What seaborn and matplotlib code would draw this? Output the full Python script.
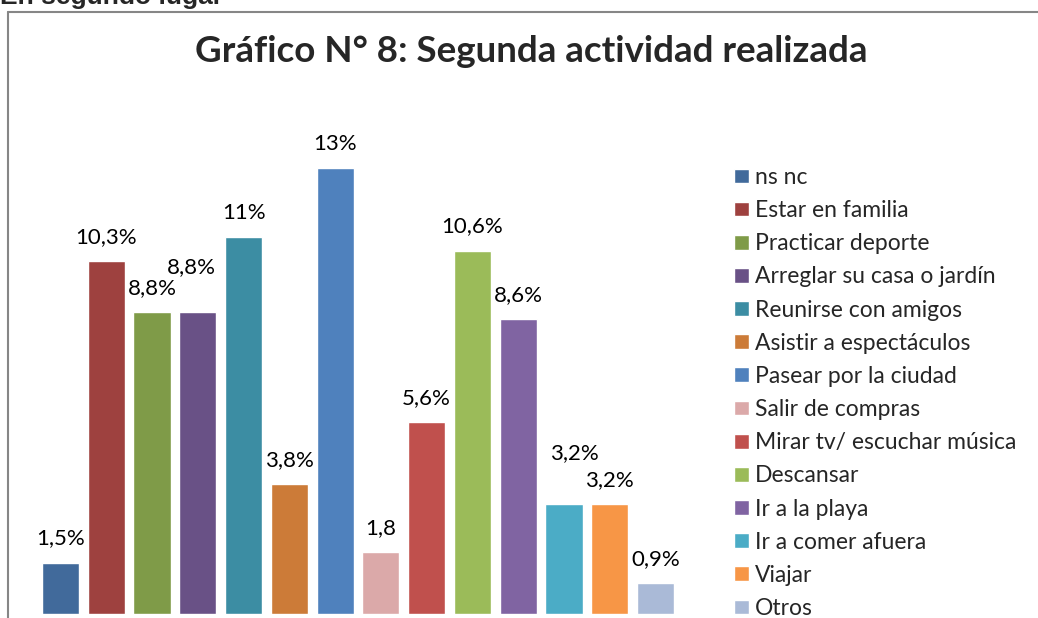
import matplotlib
matplotlib.use("Agg")
import matplotlib.pyplot as plt
from matplotlib.lines import Line2D
import seaborn as sns
import pandas as pd

categories = ["ns nc", "Estar en familia", "Practicar deporte", "Arreglar su casa o jardín",
              "Reunirse con amigos", "Asistir a espectáculos", "Pasear por la ciudad",
              "Salir de compras", "Mirar tv/ escuchar música", "Descansar", "Ir a la playa",
              "Ir a comer afuera", "Viajar", "Otros"]
values = [1.5, 10.3, 8.8, 8.8, 11.0, 3.8, 13.0, 1.8, 5.6, 10.6, 8.6, 3.2, 3.2, 0.9]
value_labels = ["1,5%", "10,3%", "8,8%", "8,8%", "11%", "3,8%", "13%", "1,8", "5,6%",
                "10,6%", "8,6%", "3,2%", "3,2%", "0,9%"]
colors = ["#416A9B", "#9E413F", "#7F9B48", "#695186", "#3C8DA3", "#CC7B38", "#4F81BD",
          "#DBA9A9", "#C0504D", "#9BBB59", "#8064A2", "#4BACC6", "#F79646", "#AABAD7"]

sns.set_style("white")
plt.rcParams["font.family"] = ["Lato", "DejaVu Sans"]

W, H = 1038, 618
fig = plt.figure(figsize=(W / 100, H / 100), dpi=100)
ax = fig.add_axes([37.6 / W, 4 / H, (678.4 - 37.6) / W, (614 - 134) / H])

df = pd.DataFrame({"cat": categories, "val": values})
sns.barplot(data=df, x="cat", y="val", hue="cat", palette=colors, width=0.81,
            saturation=1, legend=True, ax=ax)
ax.set_ylim(0, 14)
ax.set_xlim(-0.5, len(categories) - 0.5)
ax.set_xlabel("")
ax.set_ylabel("")
ax.set_xticks([])
ax.set_yticks([])
for s in ax.spines.values():
    s.set_visible(False)

# label displacement (pixels) for overlapping labels
label_shift = {3: (-6, 45), 11: (10, 51)}
for i, p in enumerate(ax.patches[:len(values)]):
    dx, dy = label_shift.get(i, (0, 24))
    ax.annotate(value_labels[i], xy=(p.get_x() + p.get_width() / 2, p.get_height()),
                xytext=(dx, dy), textcoords="offset pixels", ha="center", va="center",
                fontsize=16, color="black")

handles, labels = ax.get_legend_handles_labels()
fs = 16.5
fpx = fs * 100 / 72
ax.legend(handles, labels, loc="center left",
          bbox_to_anchor=(734 / W, 1 - 393 / H), bbox_transform=fig.transFigure,
          frameon=False, fontsize=fs, borderpad=0, borderaxespad=0,
          handlelength=15 / fpx, handleheight=14 / fpx, handletextpad=6 / fpx,
          labelspacing=0.53)

fig.text(531 / W, 1 - 62 / H, "Gráfico N° 8: Segunda actividad realizada",
         ha="center", va="baseline", fontsize=26.5, fontweight="bold")
fig.text(0, 1 - 4 / H, "En segundo lugar", ha="left", va="baseline",
         fontsize=19, fontweight="bold", family=["Liberation Sans", "DejaVu Sans"])

fig.add_artist(Line2D([8 / W, 8 / W], [0, 1 - 12 / H], transform=fig.transFigure,
                      color="#868686", lw=1.5))
fig.add_artist(Line2D([8 / W, 1], [1 - 12 / H, 1 - 12 / H], transform=fig.transFigure,
                      color="#868686", lw=1.5))

fig.savefig("out.png", dpi=100)
